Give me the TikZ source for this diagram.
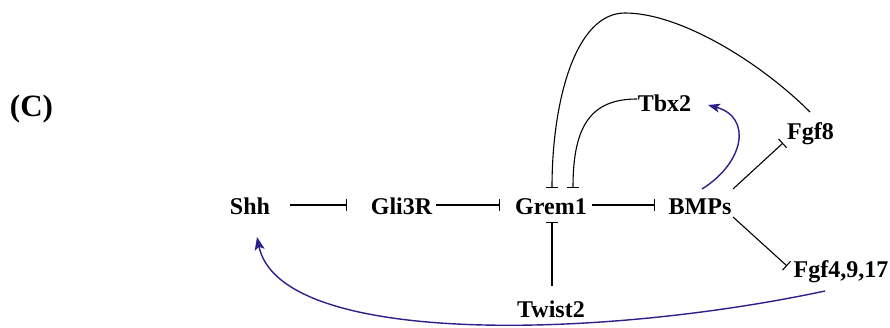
\documentclass[tikz,border=0pt]{standalone}
\usepackage{fontspec}
\setmainfont{Liberation Serif}
\usetikzlibrary{arrows.meta}
\definecolor{mblue}{RGB}{44,32,138}
\tikzset{
  gene/.style={inner sep=0pt, anchor=base, font=\fontsize{24}{28}\selectfont\bfseries},
  inh/.style={line width=1.1pt, -{Bar[width=12pt,line width=1.1pt]}},
  act/.style={line width=1.4pt, draw=mblue, -{Stealth[length=13pt,width=10pt,inset=3pt]}, color=mblue},
}
\begin{document}
\begin{tikzpicture}[x=1pt,y=1pt]
\useasboundingbox (0,0) rectangle (890,327);
\node[gene, font=\fontsize{31}{34}\selectfont\bfseries] (lab) at (31.5,210) {(C)};
\node[gene] (shh) at (250,113) {Shh};
\node[gene] (gli) at (401.5,113) {Gli3R};
\node[gene] (grem) at (551,113) {Grem1};
\node[gene] (bmps) at (700,113) {BMPs};
\node[gene] (twist) at (551,10) {Twist2};
\node[gene] (tbx) at (664.5,215) {Tbx2};
\node[gene] (fgf8) at (810.5,188) {Fgf8};
\node[gene] (fgf4) at (841,50) {Fgf4,9,17};
% straight inhibitions
\draw[inh] ([shift={(40,9)}]shh.base) -- ([shift={(-54.5,9)}]gli.base);
\draw[inh] ([shift={(34.5,9)}]gli.base) -- ([shift={(-51,9)}]grem.base);
\draw[inh] ([shift={(41,9)}]grem.base) -- ([shift={(-45,9)}]bmps.base);
\draw[inh] ([shift={(1,31)}]twist.base) -- ([shift={(1,-8)}]grem.base);
\draw[inh] ([shift={(33,25)}]bmps.base) -- ([shift={(-27.5,-4)}]fgf8.base);
\draw[inh] ([shift={(33,-3)}]bmps.base) -- ([shift={(-54,11)}]fgf4.base);
% Fgf8 -| Grem1 (outer loop)
\draw[inh] ([shift={(-0.5,27)}]fgf8.base) .. controls (760,265) and (680,314) .. (625,314)
  .. controls (575,314) and (552,225) .. ([shift={(1,26)}]grem.base);
% Tbx2 -| Grem1 (inner loop)
\draw[inh] ([shift={(-27.5,13)}]tbx.base) .. controls (590,228) and (573,200) .. ([shift={(22,26)}]grem.base);
% BMPs -> Tbx2
\draw[act, -{Stealth[length=12pt,width=9pt,inset=3pt]}] ([shift={(2,25)}]bmps.base) .. controls (745,165) and (752,210) .. ([shift={(43.5,7)}]tbx.base);
% Fgf4,9,17 -> Shh
\draw[act] ([shift={(-16,-14)}]fgf4.base) .. controls (600,-12) and (280,-20) .. ([shift={(7,-23)}]shh.base);
\end{tikzpicture}
\end{document}
